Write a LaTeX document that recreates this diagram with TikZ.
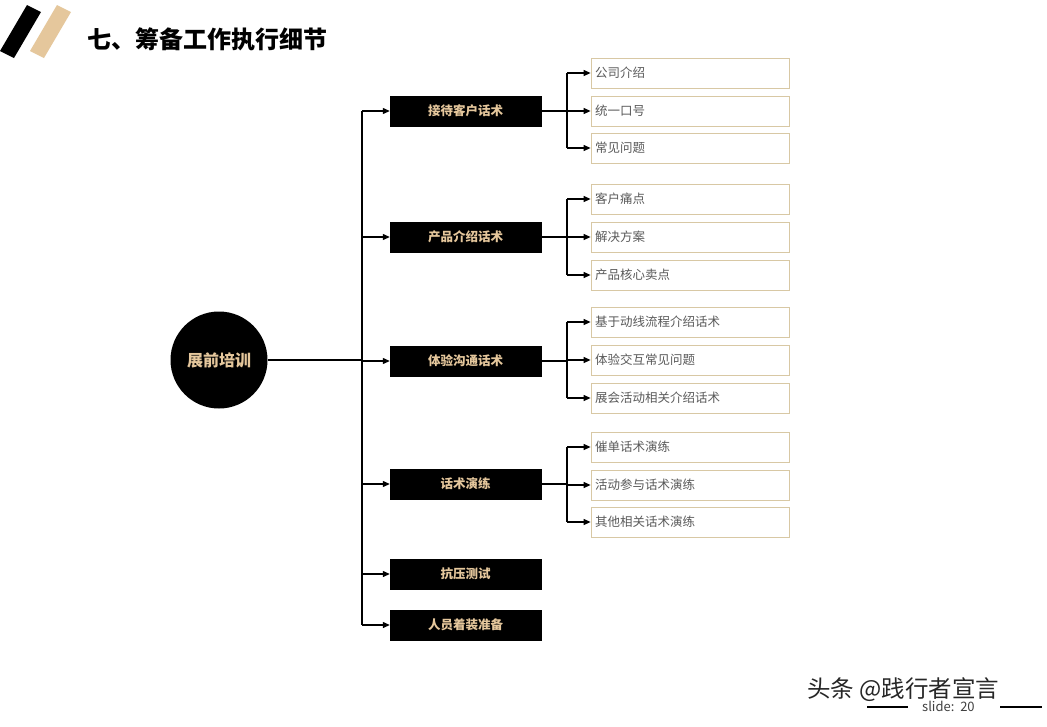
\documentclass[tikz,border=0pt]{standalone}
\usepackage{fontspec}
\setmainfont{Noto Sans CJK SC}
\newfontfamily\cjk{Noto Sans CJK SC}
\usetikzlibrary{arrows.meta}
\definecolor{tan}{HTML}{E5C79C}
\definecolor{tanline}{HTML}{D8C8A4}
\definecolor{txtgray}{HTML}{5A5A5A}
\tikzset{
  branch/.style={draw=black,fill=black,minimum width=151pt,minimum height=30pt,inner sep=0pt,
    text=tan,font=\cjk\bfseries\fontsize{12.5}{14}\selectfont},
  leaf/.style={draw=tanline,line width=0.8pt,fill=white,minimum width=198pt,minimum height=30pt,inner sep=0pt,
    text=txtgray,font=\cjk\fontsize{12.5}{14}\selectfont,align=left,text width=190pt},
  conn/.style={line width=1.2pt,draw=black},
  arr/.style={conn,-{Triangle[length=7pt,width=6pt]}},
}
\begin{document}
\begin{tikzpicture}[x=1pt,y=-1pt]
\useasboundingbox[fill=white] (0,0) rectangle (1047,726);
% title decoration
\fill[black] (27,5) -- (41,12) -- (14,58) -- (0,51) -- cycle;
\fill[tan] (57,5) -- (71,12) -- (44,58) -- (30,51) -- cycle;
\node[anchor=west,inner sep=0pt,font=\cjk\bfseries\fontsize{24}{26}\selectfont] (title) at (87,39) {七、筹备工作执行细节};
% root
\node[circle,fill=black,minimum size=97pt,inner sep=0pt,text=tan,font=\cjk\bfseries\fontsize{16}{18}\selectfont] (root) at (219,360) {展前培训};
\coordinate (trunk) at (362,360);
\coordinate (ttop) at (362,111);
\coordinate (tbot) at (362,625);
\draw[conn] (root.east) -- (trunk);
\draw[conn] (ttop) -- (tbot);
% branches
\node[branch] (b1) at (465.5,111) {接待客户话术};
\node[branch] (b2) at (465.5,237) {产品介绍话术};
\node[branch] (b3) at (465.5,361) {体验沟通话术};
\node[branch] (b4) at (465.5,484) {话术演练};
\node[branch] (b5) at (465.5,574) {抗压测试};
\node[branch] (b6) at (465.5,625) {人员着装准备};
\foreach \b in {b1,b2,b3,b4,b5,b6}{
  \draw[arr] (ttop |- \b.west) -- (\b.west);
}
% leaves
\node[leaf] (l11) at (690,73) {公司介绍};
\node[leaf] (l12) at (690,111) {统一口号};
\node[leaf] (l13) at (690,148) {常见问题};
\node[leaf] (l21) at (690,199) {客户痛点};
\node[leaf] (l22) at (690,237) {解决方案};
\node[leaf] (l23) at (690,275) {产品核心卖点};
\node[leaf] (l31) at (690,322) {基于动线流程介绍话术};
\node[leaf] (l32) at (690,360) {体验交互常见问题};
\node[leaf] (l33) at (690,398) {展会活动相关介绍话术};
\node[leaf] (l41) at (690,447) {催单话术演练};
\node[leaf] (l42) at (690,485) {活动参与话术演练};
\node[leaf] (l43) at (690,522) {其他相关话术演练};
\foreach \g in {1,2,3,4}{
  \coordinate (j\g) at (567,0);
  \draw[conn] (b\g.east) -- (j\g |- b\g.east);
  \draw[conn] (j\g |- l\g1.west) -- (j\g |- l\g3.west);
  \foreach \k in {1,2,3}{
    \draw[arr] (j\g |- l\g\k.west) -- (l\g\k.west);
  }
}
% footer
\node[anchor=west,inner sep=0pt,text=black!85,font=\cjk\fontsize{23.5}{26}\selectfont] (wm) at (807,690) {头条 @践行者宣言};
\node[anchor=west,inner sep=0pt,text=black!75,font=\cjk\fontsize{13}{15}\selectfont] (slide) at (922,706) {slide:\ \ 20};
\draw[line width=1.2pt] (867,707) -- (908,707);
\draw[line width=1.2pt] (1000,707) -- (1042,707);
\end{tikzpicture}
\end{document}
